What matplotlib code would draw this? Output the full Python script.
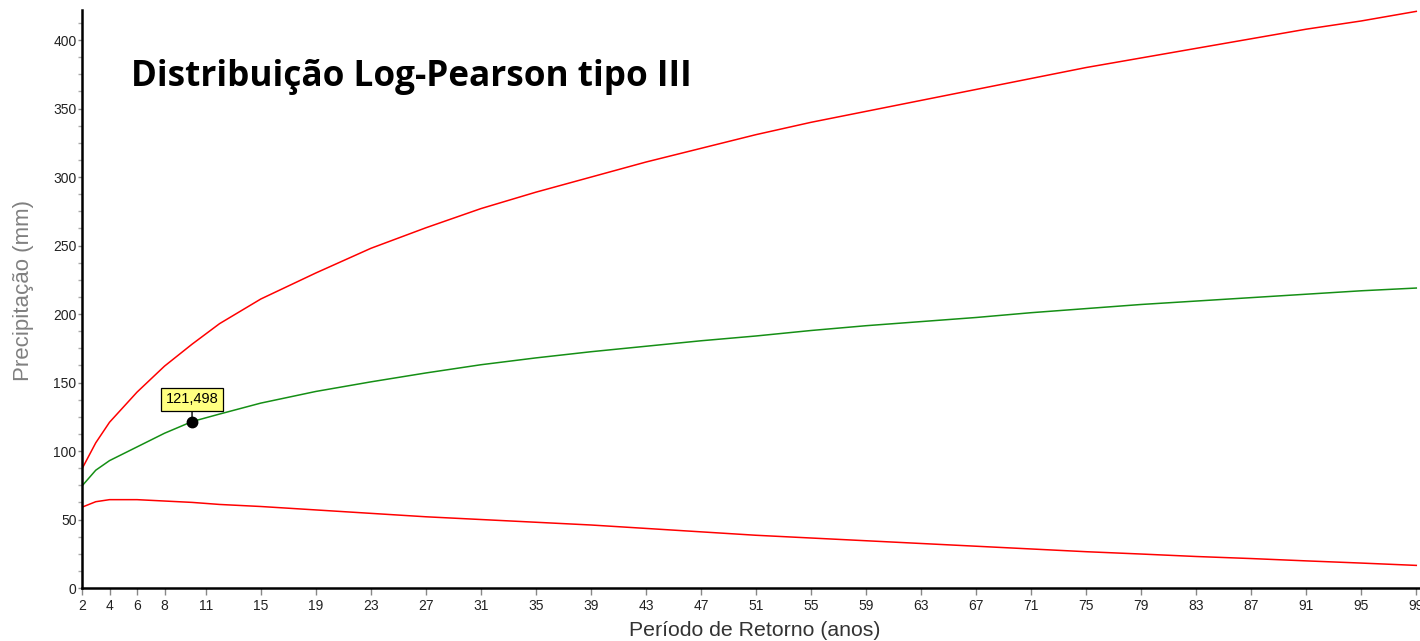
import matplotlib
matplotlib.use("Agg")
import matplotlib.pyplot as plt

# ---- data ----
periods = [2, 3, 4, 6, 8, 10, 12, 15, 19, 23, 27, 31, 35, 39, 43, 47, 51, 55,
           59, 63, 67, 71, 75, 79, 83, 87, 91, 95, 99]
upper_band = [87, 106, 121, 143, 162, 178, 193, 211, 230, 248, 263, 277, 289,
              300, 311, 321, 331, 340, 348, 356, 364, 372, 380, 387, 394, 401,
              408, 414, 421]
estimate = [74.5, 86, 93, 103, 113, 121.5, 127, 135, 143.5, 150.5, 157, 163, 168,
            172.5, 176.5, 180.5, 184, 188, 191.5, 194.5, 197.5, 201, 204, 207,
            209.5, 212, 214.5, 217, 219]
lower_band = [59, 63, 64.5, 64.5, 63.5, 62.5, 61, 59.5, 57, 54.5, 52, 50, 48, 46,
              43.5, 41, 38.5, 36.5, 34.5, 32.5, 30.5, 28.5, 26.5, 24.8, 23, 21.5,
              19.8, 18.2, 16.5]

x_ticks = [2, 4, 6, 8] + list(range(11, 100, 4))
y_ticks = list(range(0, 401, 50))

marker_period = 10
marker_value = 121.498

title_text = "Distribuição Log-Pearson tipo III"
x_label = "Período de Retorno (anos)"
y_label = "Precipitação (mm)"

# ---- figure ----
fig = plt.figure(figsize=(14.2, 6.41), dpi=100)
ax = fig.add_axes([82 / 1420, 53 / 641, 1 - 82 / 1420, 578 / 641])

ax.plot(periods, upper_band, color="#ff0000", lw=1.1)
ax.plot(periods, estimate, color="#158f15", lw=1.1)
ax.plot(periods, lower_band, color="#ff0000", lw=1.1)

ax.set_xlim(2, 99.27)
ax.set_ylim(0, 422)

for s in ["top", "right"]:
    ax.spines[s].set_visible(False)
for s in ["left", "bottom"]:
    ax.spines[s].set_linewidth(1.8)
    ax.spines[s].set_color("black")

ax.set_xticks(x_ticks)
ax.set_xticklabels([str(t) for t in x_ticks], fontsize=10,
                   family="Liberation Sans", color="#222222")
ax.set_yticks(y_ticks)
ax.set_yticklabels([str(t) for t in y_ticks], fontsize=10,
                   family="Liberation Sans", color="#222222")
ax.set_yticks([v * 12.5 for v in range(0, 34)], minor=True)
ax.tick_params(axis="x", which="major", length=5, width=1, color="#888888", pad=3)
ax.tick_params(axis="y", which="major", length=3, width=1, color="#888888", pad=1)
ax.tick_params(axis="y", which="minor", length=3, width=1, color="#aaaaaa")

ax.set_xlabel(x_label, fontsize=15.3, family="Liberation Sans", color="#333333")
ax.xaxis.set_label_coords((755 - 82) / 1338, -(630 - 588) / 578)
ax.set_ylabel(y_label, fontsize=16, family="Liberation Sans", color="#808080")
ax.yaxis.set_label_coords(-(82 - 24) / 1338, (588 - 290) / 578)
ax.xaxis.label.set_va("center")
ax.yaxis.label.set_va("center")

fig.text(131 / 1420, 1 - 77 / 641, title_text, fontsize=25.3, fontweight="bold",
         family="Open Sans", va="center", ha="left", color="black")

# highlighted point with tooltip
ax.plot([marker_period], [marker_value], marker="o", color="black",
        markersize=7.5, zorder=5)
ax.annotate(f"{marker_value:.3f}".replace(".", ","),
            xy=(marker_period, marker_value), xytext=(0, 16),
            textcoords="offset points", ha="center", va="center",
            fontsize=10.5, family="Liberation Sans", color="black",
            bbox=dict(boxstyle="square,pad=0.3", fc="#ffff80", ec="black", lw=0.9),
            arrowprops=dict(arrowstyle="-", color="black", lw=1,
                            shrinkA=0, shrinkB=0))

fig.savefig("out.png", dpi=100)
